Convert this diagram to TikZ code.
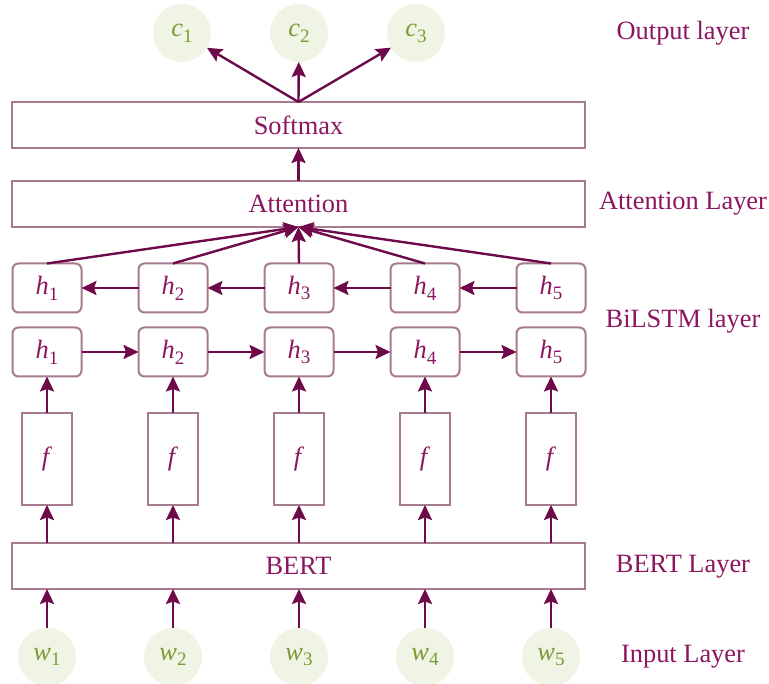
\documentclass[tikz,border=0pt]{standalone}
\usepackage{fontspec}
\setmainfont{Liberation Serif}
\usetikzlibrary{arrows.meta}
\definecolor{txtmag}{HTML}{8C1660}
\definecolor{arrmag}{HTML}{6E0A4A}
\definecolor{boxedge}{HTML}{A87A90}
\definecolor{leaf}{HTML}{EFF4E4}
\definecolor{leaftxt}{HTML}{7B9B35}
\newcommand\vsub[2]{\textit{#1}\raisebox{-0.22em}{\fontsize{19}{19}\selectfont #2}}
\begin{document}
\begin{tikzpicture}[x=1pt,y=1pt,
  every node/.style={font=\fontsize{26.4}{30}\selectfont, text=txtmag, inner sep=0pt, outer sep=0pt},
  widebox/.style={draw=boxedge, line width=2pt, fill=white, minimum width=573pt, minimum height=46pt},
  hbox/.style={draw=boxedge, line width=2pt, rounded corners=6pt, fill=white, minimum width=69pt, minimum height=49pt},
  fbox/.style={draw=boxedge, line width=2pt, fill=white, minimum width=50pt, minimum height=92pt},
  unit/.style={circle, fill=leaf, minimum size=58pt, text=leaftxt},
  layerlabel/.style={text=txtmag},
  conn/.style={draw=arrmag, line width=2.4pt, -{Stealth[length=15pt,width=14pt,inset=2.5pt]}}
]
\useasboundingbox (0,0) rectangle (769,684);
\fill[white] (0,0) rectangle (769,684);

% wide layers
\node[widebox] (soft) at (298.5,559) {Softmax};
\node[widebox] (att) at (298.5,480) {Attention};
\node[widebox] (bert) at (298.5,118) {BERT};

% output units
\node[unit] (c1) at (182,651) {\vsub{c}{1}};
\node[unit] (c2) at (299,651) {\vsub{c}{2}};
\node[unit] (c3) at (416,651) {\vsub{c}{3}};

% columns
\foreach \i/\x in {1/47,2/173,3/299,4/425,5/551} {
  \node[hbox] (hb\i) at (\x,396) {\vsub{h}{\i}};
  \node[hbox] (hf\i) at (\x,332) {\vsub{h}{\i}};
  \node[fbox] (f\i) at (\x,225) {\textit{f}};
  \node[unit] (w\i) at (\x,27) {\vsub{w}{\i}};
}

% layer labels
\node[layerlabel] (l1) at (683,651) {Output layer};
\node[layerlabel] (l2) at (683,480) {Attention Layer};
\node[layerlabel] (l3) at (683,363) {BiLSTM layer};
\node[layerlabel] (l4) at (683,117) {BERT Layer};
\node[layerlabel] (l5) at (683,27) {Input Layer};

% connectors
\foreach \i in {1,2,3,4,5} {
  \draw[conn] (w\i) -- (w\i |- bert.south);
  \draw[conn] (bert.north -| f\i) -- (f\i.south);
  \draw[conn] (f\i.north) -- (hf\i.south);
  \draw[conn] (hb\i.north) -- (att.south);
}
\foreach \a/\b in {1/2,2/3,3/4,4/5} {
  \draw[conn] (hf\a.east) -- (hf\b.west);
  \draw[conn] (hb\b.west) -- (hb\a.east);
}
\draw[conn] (att.north) -- (soft.south);
\draw[conn] (soft.north) -- (c1);
\draw[conn] (soft.north) -- (c2);
\draw[conn] (soft.north) -- (c3);
\end{tikzpicture}
\end{document}
